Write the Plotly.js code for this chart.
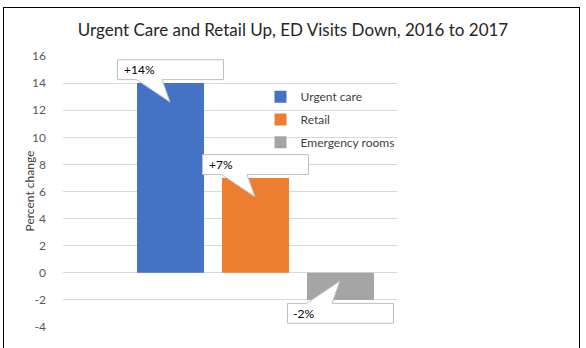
<!DOCTYPE html>
<html><head><meta charset="utf-8">
<script src="https://cdn.plot.ly/plotly-3.0.1.min.js"></script>
<style>
html,body{margin:0;padding:0;overflow:hidden;background:#fff}
#chart{width:586px;height:348px;position:absolute;left:0;top:0}
#frame{position:absolute;left:3px;top:7px;width:577px;height:400px;border:1px solid #000;box-sizing:border-box;pointer-events:none}
</style></head><body>
<div id="chart"></div><div id="frame"></div>
<script>
const categories = ["Urgent care", "Retail", "Emergency rooms"];
const values = [14, 7, -2];
const valueLabels = ["+14%", "+7%", "-2%"];
const colors = ["#4472C4", "#ED7D31", "#A5A5A5"];
const yTicks = [-4, -2, 0, 2, 4, 6, 8, 10, 12, 14, 16];
const yTitle = "Percent change";
const chartTitle = "Urgent Care and Retail Up, ED Visits Down, 2016 to 2017";

const FONT = "Lato, 'Open Sans', sans-serif";
const W = 586, H = 348;
const M = {l: 63, r: 189, t: 56, b: 21};
const PW = W - M.l - M.r, PH = H - M.t - M.b;
const legendNames = ["legend", "legend2", "legend3"];
const legendY = [96.7, 119.5, 142.3];

const traces = categories.map((c, i) => ({
  type: "bar",
  x: [c],
  y: [values[i]],
  name: c,
  marker: {color: colors[i]},
  legend: legendNames[i],
  hoverinfo: "skip"
}));

function calloutPath(sign) {
  const pts = [[-53, 23.3], [53, 23.3], [53, 3.5], [-8.5, 3.5], [-0.5, -19], [-34, 3.5], [-53, 3.5]];
  return "M" + pts.map(p => p[0] + "," + (p[1] * sign)).join(" L") + " Z";
}

const shapes = categories.map((c, i) => ({
  type: "path",
  xref: "x", yref: "y",
  xsizemode: "pixel", ysizemode: "pixel",
  xanchor: i, yanchor: values[i],
  path: calloutPath(values[i] >= 0 ? 1 : -1),
  fillcolor: "#ffffff",
  line: {color: "#bfbfbf", width: 1},
  layer: "above"
}));

const annotations = categories.map((c, i) => ({
  x: c, y: values[i], xref: "x", yref: "y",
  text: valueLabels[i], showarrow: false,
  xanchor: "left", yanchor: "middle",
  xshift: -49, yshift: (values[i] >= 0 ? 1 : -1) * 13.5,
  font: {family: FONT, size: 12, color: "#000"}
}));
annotations.push({
  text: yTitle, xref: "paper", yref: "paper",
  x: (29 - M.l) / PW, y: 0.5, xanchor: "center", yanchor: "middle",
  textangle: -90, showarrow: false,
  font: {family: FONT, size: 12, color: "#404040"}
});

const layout = {
  width: W, height: H,
  margin: Object.assign({pad: 0}, M),
  paper_bgcolor: "#fff", plot_bgcolor: "#fff",
  title: {text: chartTitle,
          x: 0.5, xref: "container", xanchor: "center",
          y: 1 - 30 / H, yref: "container", yanchor: "middle",
          font: {family: FONT, size: 17, color: "#262626"}},
  barmode: "overlay",
  bargap: 0.212,
  xaxis: {type: "category", categoryarray: categories, categoryorder: "array",
          range: [-1.265, 2.665], showticklabels: false, showgrid: false,
          zeroline: false, showline: false, ticks: "", fixedrange: true},
  yaxis: {range: [-4, 16], tickvals: yTicks, ticktext: yTicks.map(String),
          showgrid: true, gridcolor: "#d9d9d9", gridwidth: 1,
          zeroline: false, showline: false, ticks: "",
          ticklabelstandoff: 16,
          tickfont: {family: FONT, size: 12, color: "#595959"}},
  shapes: shapes,
  annotations: annotations,
  showlegend: true
};
legendNames.forEach((ln, i) => {
  layout[ln] = {x: (260.5 - M.l) / PW, xref: "paper", xanchor: "left",
                y: (H - M.b - legendY[i]) / PH, yref: "paper", yanchor: "middle",
                bgcolor: "rgba(0,0,0,0)", borderwidth: 0,
                font: {family: FONT, size: 12, color: "#404040"}};
});

Plotly.newPlot("chart", traces, layout, {staticPlot: true, displayModeBar: false});
</script>
</body></html>
